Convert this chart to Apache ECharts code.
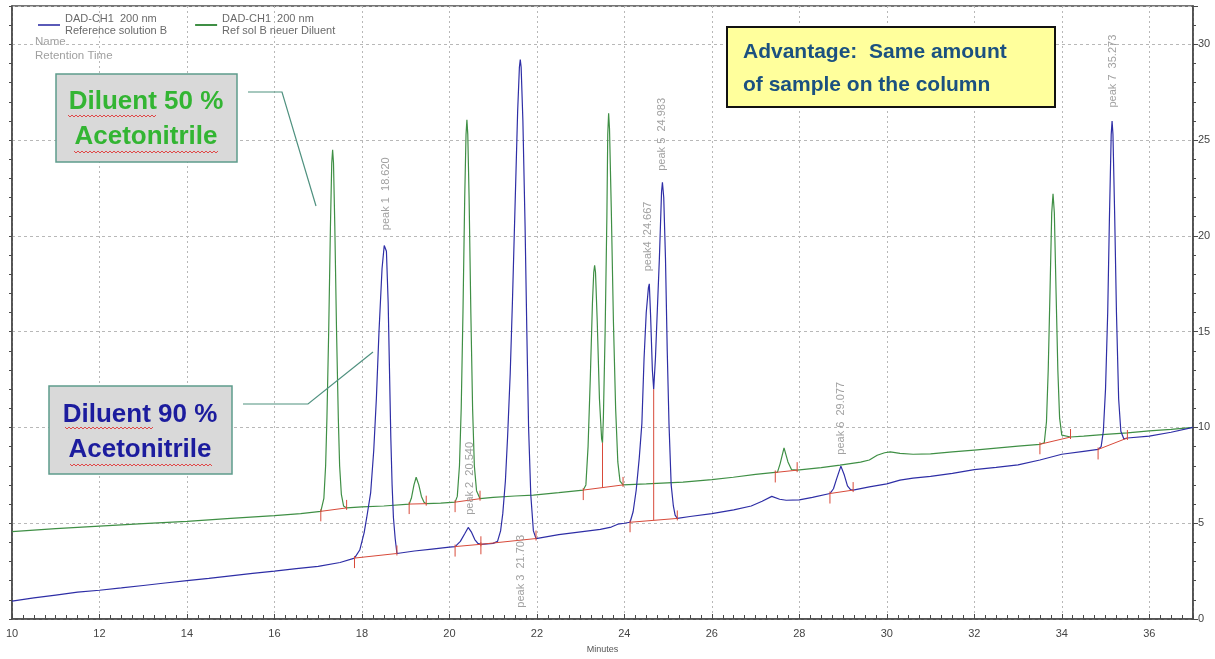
<!DOCTYPE html>
<html>
<head>
<meta charset="utf-8">
<script src="https://cdn.jsdelivr.net/npm/echarts@6/dist/echarts.min.js"></script>
<style>
html,body{margin:0;padding:0;background:#fff;}
#chart{width:1215px;height:659px;}
</style>
</head>
<body>
<div id="chart"></div>
<script>
// ---- data (time in minutes, signal) ----
const blueName = 'DAD-CH1  200 nm\nReference solution B';
const greenName = 'DAD-CH1  200 nm\nRef sol B neuer Diluent';

const blueTrace = [
[10,0.93],[10.5,1.1],[11,1.25],[11.5,1.4],[12,1.5],[12.5,1.62],[13,1.75],[13.5,1.88],[14,2.0],[14.5,2.12],[15,2.25],[15.5,2.38],[16,2.5],[16.5,2.63],[17,2.75],[17.5,2.95],
[17.83,3.18],[17.95,3.6],[18.05,4.5],[18.11,5.3],[18.2,6.6],[18.27,8.8],[18.33,11.5],[18.39,15.0],[18.46,18.3],[18.51,19.5],[18.53,19.6],[18.56,19.2],[18.6,16.5],[18.63,13.0],[18.66,9.5],[18.69,7.0],[18.72,5.3],[18.76,4.2],[18.8,3.42],
[19.2,3.55],[19.6,3.65],[20.0,3.75],[20.13,3.78],[20.25,4.05],[20.35,4.45],[20.43,4.78],[20.5,4.55],[20.58,4.15],[20.65,3.95],[20.72,3.9],
[21.0,3.95],[21.1,4.05],[21.17,4.6],[21.22,5.5],[21.28,7.2],[21.33,9.5],[21.39,12.8],[21.44,16.5],[21.5,21.5],[21.56,26.5],[21.6,28.8],[21.62,29.2],[21.64,28.8],[21.68,26.0],[21.73,20.5],[21.77,15.0],[21.81,10.0],[21.86,6.5],[21.92,4.6],[21.98,4.2],
[22.5,4.4],[23.0,4.55],[23.45,4.68],[23.7,4.8],[23.85,4.95],[24.0,5.0],[24.13,5.05],[24.2,5.6],[24.27,6.72],[24.34,8.4],[24.4,10.2],[24.45,13.6],[24.5,16.0],[24.55,17.3],[24.57,17.5],[24.6,15.8],[24.64,13.0],[24.67,12.0],[24.71,13.6],[24.74,15.35],[24.8,18.8],[24.85,22.3],[24.87,22.8],[24.9,22.0],[24.94,18.8],[24.98,14.0],[25.02,10.2],[25.07,7.0],[25.12,5.9],[25.16,5.42],[25.21,5.25],
[25.5,5.35],[26.0,5.5],[26.5,5.7],[26.9,5.9],[27.15,6.15],[27.37,6.4],[27.55,6.25],[27.7,6.2],[28.0,6.22],[28.3,6.35],[28.7,6.55],[28.78,6.8],[28.85,7.3],[28.95,7.98],[29.03,7.5],[29.1,6.95],[29.17,6.75],[29.23,6.73],
[29.6,6.9],[30.0,7.05],[30.3,7.25],[30.6,7.35],[31.0,7.45],[31.5,7.6],[32.0,7.8],[32.5,7.92],[33.0,8.05],[33.5,8.3],[34.0,8.6],[34.5,8.75],[34.83,8.85],
[34.9,9.0],[34.95,9.8],[35.0,12.0],[35.05,16.0],[35.09,21.0],[35.13,25.3],[35.15,26.0],[35.17,25.3],[35.21,21.0],[35.25,16.0],[35.3,11.5],[35.35,9.8],[35.42,9.4],[35.5,9.45],[36.0,9.55],[36.5,9.75],[37.0,10.0]
];

const greenTrace = [
[10,4.56],[11,4.72],[12,4.85],[13,4.98],[14,5.1],[15,5.25],[16,5.4],[16.6,5.5],[17.06,5.62],
[17.08,5.7],[17.13,6.3],[17.17,8.0],[17.2,10.5],[17.24,15.0],[17.28,20.5],[17.31,23.8],[17.33,24.5],[17.35,23.8],[17.38,20.5],[17.42,15.0],[17.46,10.5],[17.49,8.0],[17.53,6.5],[17.58,5.9],[17.65,5.8],
[18.0,5.85],[18.5,5.9],[19.08,6.0],[19.13,6.3],[19.19,7.0],[19.24,7.4],[19.3,7.0],[19.36,6.4],[19.42,6.1],[19.47,6.02],[19.8,6.05],
[20.13,6.1],[20.18,6.4],[20.23,8.0],[20.27,11.0],[20.31,16.0],[20.35,22.0],[20.38,25.3],[20.4,26.06],[20.42,25.3],[20.45,22.0],[20.49,16.0],[20.53,11.0],[20.57,8.0],[20.62,6.7],[20.7,6.28],
[21.0,6.35],[21.5,6.42],[21.92,6.47],[22.5,6.6],[23.06,6.73],
[23.12,7.0],[23.17,9.0],[23.22,12.5],[23.27,16.5],[23.3,18.1],[23.32,18.46],[23.34,18.1],[23.38,15.5],[23.43,11.5],[23.48,9.4],[23.5,9.2],[23.52,10.5],[23.56,15.0],[23.6,21.0],[23.62,25.3],[23.64,26.4],[23.66,25.6],[23.7,21.5],[23.75,15.5],[23.8,11.0],[23.85,8.2],[23.9,7.2],[23.97,7.0],
[24.5,7.05],[25.34,7.15],[26.0,7.28],[26.49,7.4],[27.0,7.55],[27.5,7.67],[27.56,8.1],[27.65,8.93],[27.74,8.2],[27.82,7.8],[27.95,7.77],
[28.5,7.9],[28.93,8.03],[29.4,8.19],[29.6,8.3],[29.78,8.55],[29.95,8.68],[30.08,8.72],[30.3,8.65],[30.6,8.6],[31.0,8.62],[31.5,8.72],[32.0,8.82],[32.5,8.92],[33.0,9.02],[33.5,9.12],
[33.6,9.2],[33.65,10.3],[33.69,13.0],[33.73,17.0],[33.77,21.2],[33.8,22.2],[33.83,21.2],[33.87,17.0],[33.91,13.0],[33.95,10.5],[34.0,9.6],[34.2,9.5],
[34.5,9.55],[35.0,9.64],[35.5,9.72],[36.0,9.82],[36.5,9.9],[37.0,10.0]
];

// integration baselines: [start time, start value, end time, end value]
const greenIntegration = [[17.06,5.62,17.65,5.8],[19.08,6.0,19.47,6.02],[20.13,6.1,20.7,6.28],[23.06,6.73,23.97,7.0],[27.45,7.65,27.95,7.77],[33.5,9.12,34.2,9.5]];
const blueIntegration = [[17.83,3.18,18.8,3.42],[20.13,3.78,20.72,3.9],[20.72,3.9,21.98,4.2],[24.13,5.05,25.21,5.25],[28.7,6.55,29.23,6.73],[34.83,8.85,35.5,9.45]];
// drop lines: [time, bottom value, top value]
const dropLines = [[23.5,6.87,9.2],[24.67,5.16,12.0]];

// peak annotations
const peakLabels = ['peak 1  18.620','peak 2  20.540','peak 3  21.703','peak4  24.667','peak 5  24.983','peak 6  29.077','peak 7  35.273'];
const peakLabelTimes = [18.55, 20.46, 21.64, 24.55, 24.87, 28.96, 35.18];
const peakLabelBase = [20.3, 5.44, 0.59, 18.15, 23.4, 8.58, 26.7];

const xTicks = {min:10, max:37, step:2};
const yTicks = {min:0, max:32, step:5};

// ---- styles ----
const FONT = '"Liberation Sans", Arial, sans-serif';
const BLUE = '#2e2ea6';
const GREEN = '#3f8f45';
const RED = '#d84a3a';
const AXIS = '#4a4a4a';

function wave(x1, x2, y) {
  const pts = [];
  let up = true;
  for (let x = x1; x <= x2; x += 2) { pts.push([x, y + (up ? -1 : 1)]); up = !up; }
  return {type:'polyline', silent:true, shape:{points:pts}, style:{stroke:'#e04848', lineWidth:1, fill:null}};
}

const chart = echarts.init(document.getElementById('chart'), null, {renderer:'canvas'});

const labelData = peakLabels.map((n,i) => ({name:n, value:[peakLabelTimes[i], peakLabelBase[i]]}));

const option = {
  animation: false,
  backgroundColor: '#ffffff',
  textStyle: {fontFamily: FONT},
  grid: {left:12, right:22, top:6, bottom:36, show:true, borderColor:AXIS, borderWidth:1.5, backgroundColor:'transparent'},
  legend: {
    data:[blueName, greenName], left:33, top:8, itemGap:28, itemWidth:22, itemHeight:2, icon:'rect',
    selectedMode:false,
    textStyle:{fontFamily:FONT, fontSize:11, color:'#6a6a6a', lineHeight:12}
  },
  xAxis: [
    {type:'value', min:xTicks.min, max:xTicks.max, interval:xTicks.step, position:'bottom',
     name:'Minutes', nameLocation:'middle', nameGap:26, nameTextStyle:{fontSize:9, color:'#555', fontFamily:FONT},
     axisLine:{show:true, lineStyle:{color:AXIS, width:1.5}},
     axisTick:{show:true, inside:true, length:5, lineStyle:{color:AXIS}},
     axisLabel:{show:true, fontSize:11, color:'#444', margin:9, fontFamily:FONT, showMaxLabel:false,
       formatter: v => (v % 2 === 0 ? String(v) : '')},
     splitLine:{show:true, lineStyle:{color:'#b8b8b8', type:[2,3], width:1}}},
    {type:'value', min:xTicks.min, max:xTicks.max, interval:0.25, position:'bottom',
     axisLine:{show:false}, axisTick:{show:true, inside:true, length:4, lineStyle:{color:AXIS}},
     axisLabel:{show:false}, splitLine:{show:false}}
  ],
  yAxis: [
    {type:'value', min:yTicks.min, max:yTicks.max, interval:yTicks.step, position:'right',
     axisLine:{show:true, lineStyle:{color:AXIS, width:1.5}},
     axisTick:{show:true, inside:false, length:5, lineStyle:{color:AXIS}},
     axisLabel:{show:true, fontSize:11, color:'#444', margin:5, fontFamily:FONT,
       formatter: v => (v % 5 === 0 && v <= 30 ? String(v) : '')},
     splitLine:{show:true, lineStyle:{color:'#b8b8b8', type:[3,3], width:1}}},
    {type:'value', min:yTicks.min, max:yTicks.max, interval:1, position:'left',
     axisLine:{show:true, lineStyle:{color:AXIS, width:1.5}},
     axisTick:{show:true, inside:false, length:3, lineStyle:{color:AXIS}},
     axisLabel:{show:false}, splitLine:{show:false}},
    {type:'value', min:yTicks.min, max:yTicks.max, interval:1, position:'right',
     axisLine:{show:false},
     axisTick:{show:true, inside:false, length:3, lineStyle:{color:AXIS}},
     axisLabel:{show:false}, splitLine:{show:false}}
  ],
  series: [
    {name:greenName, type:'line', data:greenTrace, showSymbol:false, symbol:'none', smooth:false,
     lineStyle:{color:GREEN, width:1.2}, itemStyle:{color:GREEN}, z:3},
    {name:blueName, type:'line', data:blueTrace, showSymbol:false, symbol:'none', smooth:false,
     lineStyle:{color:BLUE, width:1.2}, itemStyle:{color:'#5a5ab8'}, z:4},
    {name:'integration', type:'custom', data:greenIntegration.concat(blueIntegration), z:5,
     encode:{x:[0,2], y:[1,3]},
     renderItem:function(params, api){
       const p1 = api.coord([api.value(0), api.value(1)]);
       const p2 = api.coord([api.value(2), api.value(3)]);
       const st = {stroke:RED, lineWidth:1};
       return {type:'group', children:[
         {type:'line', shape:{x1:p1[0], y1:p1[1], x2:p2[0], y2:p2[1]}, style:st},
         {type:'line', shape:{x1:p1[0], y1:p1[1]-2, x2:p1[0], y2:p1[1]+10}, style:st},
         {type:'line', shape:{x1:p2[0], y1:p2[1]+2, x2:p2[0], y2:p2[1]-8}, style:st}
       ]};
     }},
    {name:'drops', type:'custom', data:dropLines, z:5,
     encode:{x:0, y:[1,2]},
     renderItem:function(params, api){
       const a = api.coord([api.value(0), api.value(1)]);
       const b = api.coord([api.value(0), api.value(2)]);
       return {type:'line', shape:{x1:a[0], y1:a[1], x2:b[0], y2:b[1]}, style:{stroke:RED, lineWidth:1}};
     }},
    {name:'peaks', type:'scatter', data:labelData, symbolSize:0, z:6, silent:true,
     label:{show:true, formatter:'{b}', position:'top', distance:0, rotate:90, align:'left', verticalAlign:'middle',
       fontSize:11, color:'#8a8a8a', fontFamily:FONT}}
  ],
  graphic: [
    {type:'text', left:35, top:36, silent:true, style:{text:'Name', fontSize:11.5, fill:'#a0a0a0', fontFamily:FONT}},
    {type:'text', left:35, top:50, silent:true, style:{text:'Retention Time', fontSize:11.5, fill:'#a0a0a0', fontFamily:FONT}},
    // green annotation
    {type:'polyline', silent:true, shape:{points:[[248,92],[282,92],[316,206]]}, style:{stroke:'#4f917f', lineWidth:1.2, fill:null}, z:10},
    {type:'rect', silent:true, shape:{x:56, y:74, width:181, height:88}, style:{fill:'#d9d9d9', stroke:'#5e9c8c', lineWidth:1.5}, z:10},
    {type:'text', silent:true, x:146, y:102, z:11, style:{text:'Diluent 50 %', textAlign:'center', textVerticalAlign:'middle', font:'bold 26px ' + FONT, fill:'#33b533'}},
    {type:'text', silent:true, x:146, y:137, z:11, style:{text:'Acetonitrile', textAlign:'center', textVerticalAlign:'middle', font:'bold 26px ' + FONT, fill:'#33b533'}},
    Object.assign(wave(68, 157, 116), {z:12}),
    Object.assign(wave(74, 219, 152), {z:12}),
    // blue annotation
    {type:'polyline', silent:true, shape:{points:[[243,404],[308,404],[373,352]]}, style:{stroke:'#4f917f', lineWidth:1.2, fill:null}, z:10},
    {type:'rect', silent:true, shape:{x:49, y:386, width:183, height:88}, style:{fill:'#d9d9d9', stroke:'#5e9c8c', lineWidth:1.5}, z:10},
    {type:'text', silent:true, x:140, y:415, z:11, style:{text:'Diluent 90 %', textAlign:'center', textVerticalAlign:'middle', font:'bold 26px ' + FONT, fill:'#1c1c9e'}},
    {type:'text', silent:true, x:140, y:450, z:11, style:{text:'Acetonitrile', textAlign:'center', textVerticalAlign:'middle', font:'bold 26px ' + FONT, fill:'#1c1c9e'}},
    Object.assign(wave(65, 153, 428), {z:12}),
    Object.assign(wave(70, 213, 465), {z:12}),
    // yellow note
    {type:'rect', silent:true, shape:{x:727, y:27, width:328, height:80}, style:{fill:'#ffff9c', stroke:'#111111', lineWidth:2}, z:10},
    {type:'text', silent:true, x:743, y:52, z:11, style:{text:'Advantage:  Same amount', textAlign:'left', textVerticalAlign:'middle', font:'bold 21px ' + FONT, fill:'#1b5180'}},
    {type:'text', silent:true, x:743, y:85, z:11, style:{text:'of sample on the column', textAlign:'left', textVerticalAlign:'middle', font:'bold 21px ' + FONT, fill:'#1b5180'}}
  ]
};
chart.setOption(option);
</script>
</body>
</html>
